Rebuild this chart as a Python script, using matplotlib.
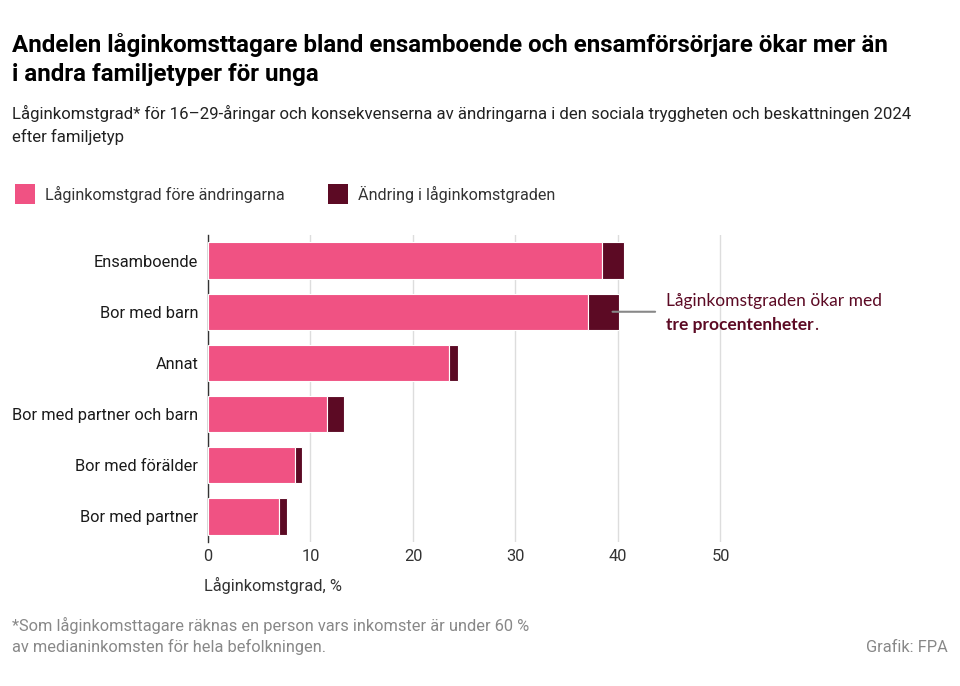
import matplotlib
matplotlib.use("Agg")
import matplotlib.pyplot as plt
from matplotlib.patches import Rectangle

categories = ["Ensamboende", "Bor med barn", "Annat", "Bor med partner och barn",
              "Bor med förälder", "Bor med partner"]
before = [38.4, 37.1, 23.5, 11.6, 8.5, 6.9]
change = [2.2, 3.0, 0.9, 1.7, 0.7, 0.8]
xticks = [0, 10, 20, 30, 40, 50]
series_names = ["Låginkomstgrad före ändringarna", "Ändring i låginkomstgraden"]

PINK = "#F05283"
DARK = "#5C0A24"
TXT = "#1a1a1a"

COND = ['Roboto', 'DejaVu Sans']
REG = ['Lato', 'DejaVu Sans']
plt.rcParams['font.family'] = COND

W, H = 960, 686
fig = plt.figure(figsize=(W/100, H/100), dpi=100)
renderer = fig.canvas.get_renderer()

def fx(px): return px / W
def fy(py): return 1 - py / H

def fit_size(s, target_w, size0=12, **kw):
    t = fig.text(0, 0, s, fontsize=size0, **kw)
    w = t.get_window_extent(renderer=renderer).width
    t.remove()
    return size0 * target_w / w

def fit_text(x, y, s, target_w, size0=12, **kw):
    fs = fit_size(s, target_w, size0, **kw)
    return fig.text(fx(x), fy(y), s, fontsize=fs, **kw)

cat_fs = fit_size("Bor med partner och barn", 185, family=COND)

ax = fig.add_axes([fx(208), fy(542), 515.5 / W, 307 / H])
ypos = list(range(len(categories)))
ax.barh(ypos, before, height=0.71, color=PINK, edgecolor="white", linewidth=0.8, zorder=3)
ax.barh(ypos, change, left=before, height=0.71, color=DARK, edgecolor="white", linewidth=0.8, zorder=3)
ax.set_xlim(0, 50.3)
ax.set_ylim(5.5, -0.5)
ax.set_xticks(xticks)
ax.set_xticklabels([str(t) for t in xticks], fontsize=cat_fs, color="#333333", family=COND)
ax.set_yticks(ypos)
ax.set_yticklabels(categories, fontsize=cat_fs, color=TXT, family=COND)
ax.tick_params(axis='y', length=0, pad=7)
ax.tick_params(axis='x', length=0, pad=5)
ax.grid(axis='x', color="#dddddd", linewidth=1, zorder=0)
for s in ["top", "right", "bottom"]:
    ax.spines[s].set_visible(False)
ax.spines["left"].set_color("#333333")
ax.spines["left"].set_linewidth(1)
ax.spines["left"].set_zorder(2)
ax.set_xlabel("Låginkomstgrad, %", fontsize=cat_fs, color="#333333", family=COND)
ax.xaxis.set_label_coords(-0.008, -0.115)
ax.xaxis.label.set_horizontalalignment("left")

# annotation line
ax.annotate("", xy=(before[1] + change[1] * 0.7, 1), xytext=(43.9, 1),
            arrowprops=dict(arrowstyle="-", color="#888888", lw=1.5), zorder=4)
t1 = fit_text(666, 301, "Låginkomstgraden ökar med", 214, color=DARK, family=REG, va="center", ha="left")
afs = t1.get_fontsize()
tb = fig.text(fx(666), fy(325), "tre procentenheter", fontsize=afs, color=DARK,
              family=REG, va="center", ha="left", fontweight="bold")
ext = tb.get_window_extent(renderer=renderer)
fig.text(ext.x1 / W + 0.5 / W, fy(325), ".", fontsize=afs, color=DARK, family=REG, va="center", ha="left")

# title
t2 = fit_text(12, 45, "Andelen låginkomsttagare bland ensamboende och ensamförsörjare ökar mer än", 877,
              size0=20, fontweight="bold", color="black", family=COND, va="center", ha="left")
fig.text(fx(12), fy(75), "i andra familjetyper för unga", fontsize=t2.get_fontsize(),
         fontweight="bold", color="black", family=COND, va="center", ha="left")
t3 = fit_text(12, 113, "Låginkomstgrad* för 16–29-åringar och konsekvenserna av ändringarna i den sociala tryggheten och beskattningen 2024",
              901, size0=13, color="#222222", family=COND, va="center", ha="left")
fig.text(fx(12), fy(137), "efter familjetyp", fontsize=t3.get_fontsize(), color="#222222", family=COND,
         va="center", ha="left")

# legend
fig.patches.append(Rectangle((fx(15), fy(204)), 20 / W, 20 / H, transform=fig.transFigure,
                             facecolor=PINK, edgecolor="none"))
t4 = fit_text(45, 194, series_names[0], 239, color="#333333", family=COND, va="center")
fig.patches.append(Rectangle((fx(328), fy(204)), 20 / W, 20 / H, transform=fig.transFigure,
                             facecolor=DARK, edgecolor="none"))
fig.text(fx(358), fy(194), series_names[1], fontsize=t4.get_fontsize(), color="#333333",
         family=COND, va="center")

# footnote
t5 = fit_text(12, 625, "*Som låginkomsttagare räknas en person vars inkomster är under 60 %", 515,
              color="#888888", family=COND, va="center")
ffs = t5.get_fontsize()
fig.text(fx(12), fy(647), "av medianinkomsten för hela befolkningen.",
         fontsize=ffs, color="#888888", family=COND, va="center")
fig.text(fx(948), fy(647), "Grafik: FPA", fontsize=ffs, color="#888888", family=COND,
         va="center", ha="right")

fig.savefig("out.png", dpi=100)
